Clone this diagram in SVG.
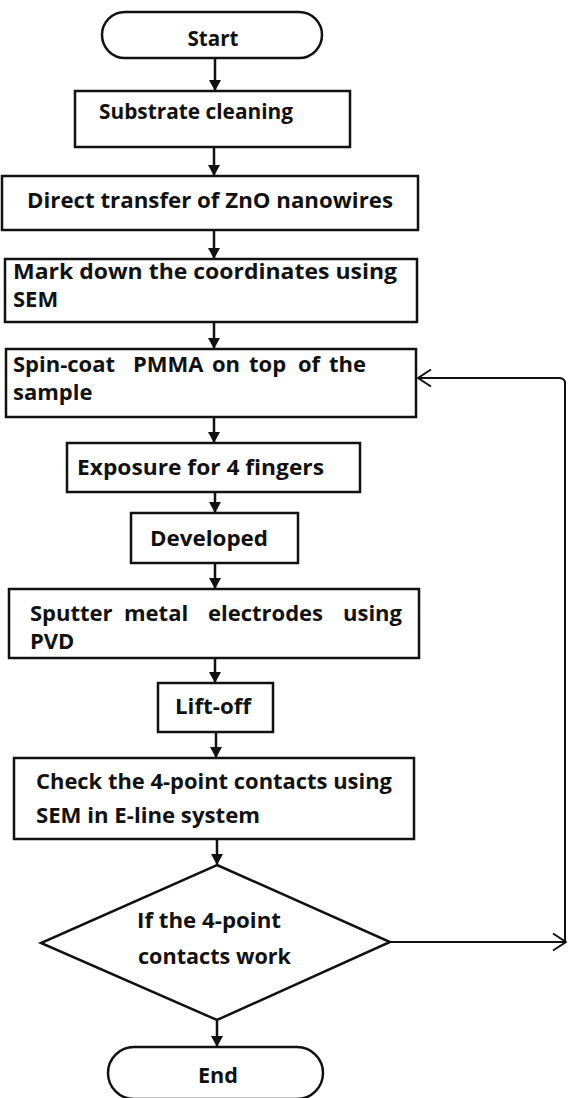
<svg xmlns="http://www.w3.org/2000/svg" width="568" height="1098" viewBox="0 0 568 1098">
<style>
  .shape { fill: #fff; stroke: #111; stroke-width: 2.5; }
  .conn { fill: none; stroke: #111; stroke-width: 2.5; }
  .fb { fill: none; stroke: #111; stroke-width: 2; }
  text { font-family: "Open Sans", "Liberation Sans", sans-serif; font-weight: 700; font-size: 22px; fill: #111; }
</style>
<defs>
  <marker id="fa" viewBox="0 0 11 12" refX="11" refY="6" markerWidth="11" markerHeight="12" markerUnits="userSpaceOnUse" orient="auto">
    <path d="M0,0 L11,6 L0,12 z" fill="#111"/>
  </marker>
  <marker id="oa" viewBox="0 0 15 20" refX="14" refY="10" markerWidth="15" markerHeight="20" markerUnits="userSpaceOnUse" orient="auto">
    <path d="M1,1.5 L14,10 L1,18.5" fill="none" stroke="#111" stroke-width="2"/>
  </marker>
</defs>

<g id="connectors">
  <line class="conn" x1="215" y1="58" x2="215" y2="91" marker-end="url(#fa)"/>
  <line class="conn" x1="214" y1="147" x2="214" y2="176" marker-end="url(#fa)"/>
  <line class="conn" x1="214" y1="230" x2="214" y2="259" marker-end="url(#fa)"/>
  <line class="conn" x1="214" y1="322" x2="214" y2="349" marker-end="url(#fa)"/>
  <line class="conn" x1="214" y1="417" x2="214" y2="443" marker-end="url(#fa)"/>
  <line class="conn" x1="215" y1="492" x2="215" y2="513" marker-end="url(#fa)"/>
  <line class="conn" x1="215" y1="563" x2="215" y2="589" marker-end="url(#fa)"/>
  <line class="conn" x1="215" y1="658" x2="215" y2="683" marker-end="url(#fa)"/>
  <line class="conn" x1="216" y1="732" x2="216" y2="758" marker-end="url(#fa)"/>
  <line class="conn" x1="217" y1="839" x2="217" y2="865" marker-end="url(#fa)"/>
  <line class="conn" x1="217" y1="1020" x2="217" y2="1047" marker-end="url(#fa)"/>
  <path class="fb" d="M390,942 H566" marker-end="url(#oa)"/>
  <path class="fb" d="M565,942 V382 Q564,378 559,378 H418" marker-end="url(#oa)"/>
</g>

<g id="start">
  <rect class="shape" x="102" y="12" width="220" height="46" rx="23" ry="23"/>
  <text x="213" y="46" text-anchor="middle" textLength="51" lengthAdjust="spacingAndGlyphs">Start</text>
</g>

<g id="substrate-cleaning">
  <rect class="shape" x="75" y="91" width="275" height="56"/>
  <text x="99" y="119" textLength="194" lengthAdjust="spacingAndGlyphs">Substrate cleaning</text>
</g>

<g id="direct-transfer">
  <rect class="shape" x="2" y="176" width="416" height="54"/>
  <text x="27" y="208" textLength="366" lengthAdjust="spacingAndGlyphs">Direct transfer of ZnO nanowires</text>
</g>

<g id="mark-down">
  <rect class="shape" x="5" y="259" width="412" height="63"/>
  <text x="13" y="279" textLength="384" lengthAdjust="spacingAndGlyphs">Mark down the coordinates using</text>
  <text x="13" y="307">SEM</text>
</g>

<g id="spin-coat">
  <rect class="shape" x="6" y="349" width="410" height="68"/>
  <text y="372"><tspan x="13">Spin-coat</tspan><tspan x="133">PMMA</tspan><tspan x="212">on</tspan><tspan x="249">top</tspan><tspan x="298">of</tspan><tspan x="329">the</tspan></text>
  <text x="13" y="400">sample</text>
</g>

<g id="exposure">
  <rect class="shape" x="67" y="443" width="293" height="49"/>
  <text x="77" y="475" textLength="247" lengthAdjust="spacingAndGlyphs">Exposure for 4 fingers</text>
</g>

<g id="developed">
  <rect class="shape" x="131" y="513" width="167" height="50"/>
  <text x="150" y="546" textLength="118" lengthAdjust="spacingAndGlyphs">Developed</text>
</g>

<g id="sputter">
  <rect class="shape" x="9" y="589" width="410" height="69"/>
  <text y="621"><tspan x="30">Sputter</tspan><tspan x="124">metal</tspan><tspan x="208">electrodes</tspan><tspan x="343">using</tspan></text>
  <text x="30" y="649">PVD</text>
</g>

<g id="lift-off">
  <rect class="shape" x="158" y="683" width="115" height="49"/>
  <text x="175" y="714" textLength="76" lengthAdjust="spacingAndGlyphs">Lift-off</text>
</g>

<g id="check-contacts">
  <rect class="shape" x="14" y="758" width="400" height="81"/>
  <text x="36" y="789" textLength="356" lengthAdjust="spacingAndGlyphs">Check the 4-point contacts using</text>
  <text x="36" y="823" textLength="224" lengthAdjust="spacingAndGlyphs">SEM in E-line system</text>
</g>

<g id="decision">
  <polygon class="shape" points="217,865 390,942 217,1020 41,943"/>
  <text x="137" y="928" textLength="144" lengthAdjust="spacingAndGlyphs">If the 4-point</text>
  <text x="138" y="964" textLength="153" lengthAdjust="spacingAndGlyphs">contacts work</text>
</g>

<g id="end">
  <rect class="shape" x="108" y="1047" width="215" height="52" rx="26" ry="26"/>
  <text x="218" y="1083" text-anchor="middle" textLength="40" lengthAdjust="spacingAndGlyphs">End</text>
</g>
</svg>
